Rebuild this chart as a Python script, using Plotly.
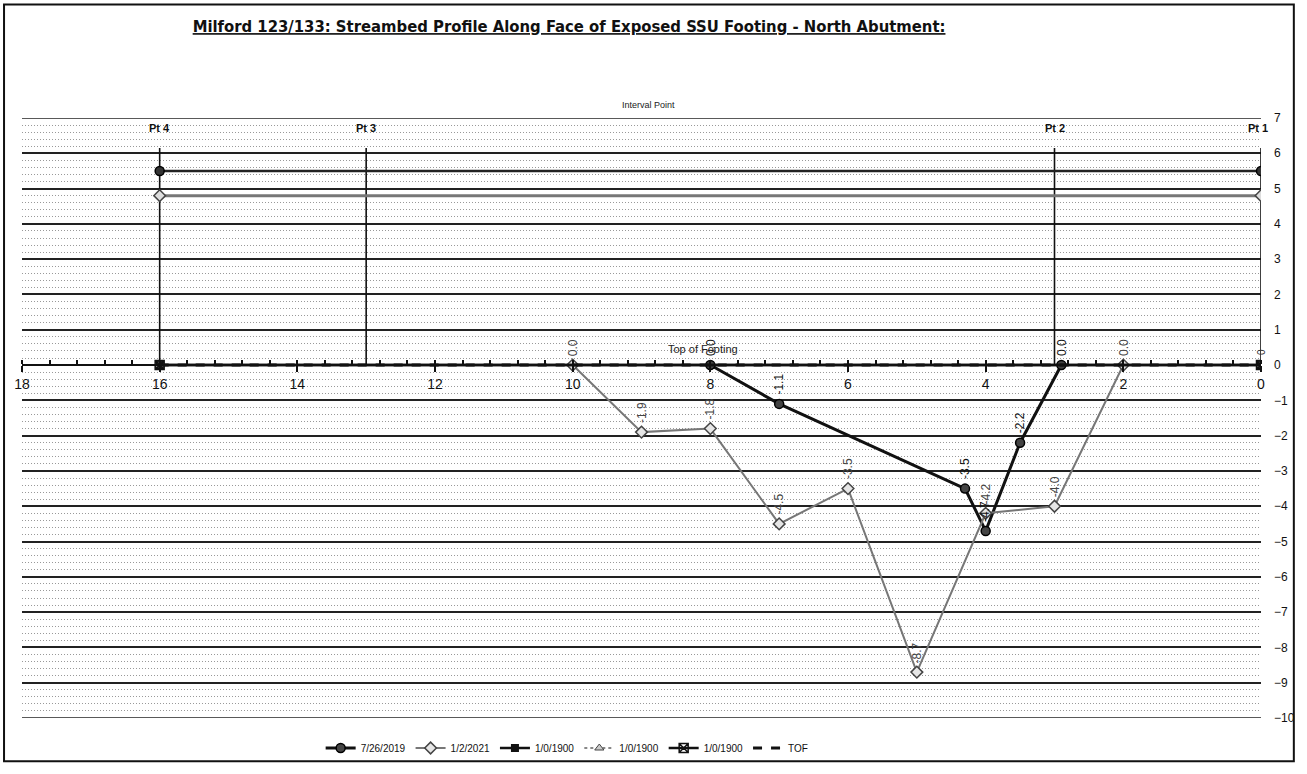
import plotly.graph_objects as go

# ---------------- data ----------------
title_text = "Milford 123/133: Streambed Profile Along Face of Exposed SSU Footing - North Abutment:"

pt_x = [16, 13, 3, 0]
pt_labels = ["Pt 4", "Pt 3", "Pt 2", "Pt 1"]
pt_top = 6.15
pt_label_y = 6.72

survey_2019_x = [8, 7, 4.3, 4.0, 3.5, 2.9]
survey_2019_y = [0.0, -1.1, -3.5, -4.7, -2.2, 0.0]

survey_2021_x = [10, 9, 8, 7, 6, 5, 4, 3, 2]
survey_2021_y = [0.0, -1.9, -1.8, -4.5, -3.5, -8.7, -4.2, -4.0, 0.0]

level_x = [16, 0]
level_2019 = 5.5
level_2021 = 4.8

tof_x = [16, 0]
tof_y = 0.0
tof_label = "Top of Footing"
tof_label_x = 8.1
tof_label_y = 0.45

x_ticks = [18, 16, 14, 12, 10, 8, 6, 4, 2, 0]
y_ticks = list(range(-10, 8))

FONT = "Liberation Sans"
TITLE_FONT = "DejaVu Sans Condensed, DejaVu Sans, Liberation Sans"

W, H = 1307, 774

fig = go.Figure()

# Pt vertical lines
for px in pt_x:
    fig.add_trace(go.Scatter(x=[px, px], y=[0, pt_top], mode="lines",
                             line=dict(color="#111", width=1.6),
                             showlegend=False, hoverinfo="skip"))

# horizontal level lines
fig.add_trace(go.Scatter(x=level_x, y=[level_2021] * len(level_x), mode="lines+markers",
                         line=dict(color="#777", width=3),
                         marker=dict(symbol="diamond", size=9, color="#ddd", line=dict(color="#444", width=1.5)),
                         showlegend=False))
fig.add_trace(go.Scatter(x=level_x, y=[level_2019] * len(level_x), mode="lines+markers",
                         line=dict(color="#222", width=2.5),
                         marker=dict(symbol="circle", size=9, color="#333", line=dict(color="#000", width=1.5)),
                         showlegend=False))

# main series
fig.add_trace(go.Scatter(x=survey_2019_x, y=survey_2019_y, mode="lines+markers", name="7/26/2019",
                         line=dict(color="#111", width=3),
                         marker=dict(symbol="circle", size=9, color="#444", line=dict(color="#000", width=1.5))))
fig.add_trace(go.Scatter(x=survey_2021_x, y=survey_2021_y, mode="lines+markers", name="1/2/2021",
                         line=dict(color="#777", width=2),
                         marker=dict(symbol="diamond", size=9, color="#e6e6e6", line=dict(color="#444", width=1.5))))

# placeholder series (sit on the footing line)
fig.add_trace(go.Scatter(x=tof_x, y=[tof_y] * 2, mode="lines+markers", name="1/0/1900",
                         line=dict(color="#111", width=2.5),
                         marker=dict(symbol="square", size=8, color="#111")))
fig.add_trace(go.Scatter(x=tof_x, y=[tof_y] * 2, mode="lines+markers", name="1/0/1900",
                         line=dict(color="#888", width=2, dash="dot"),
                         marker=dict(symbol="triangle-up", size=8, color="#ccc", line=dict(color="#444", width=1))))
fig.add_trace(go.Scatter(x=tof_x, y=[tof_y] * 2, mode="lines+markers", name="1/0/1900",
                         line=dict(color="#111", width=2.5),
                         marker=dict(symbol="square-x-open", size=9, color="#111", line=dict(width=1.5))))
fig.add_trace(go.Scatter(x=tof_x, y=[tof_y] * 2, mode="lines", name="TOF",
                         line=dict(color="#111", width=3, dash="dash")))

annotations = []
for xv, yv in zip(survey_2019_x, survey_2019_y):
    annotations.append(dict(x=xv, y=yv, xref="x", yref="y", text=f"{yv:.1f}", showarrow=False,
                            textangle=-90, yanchor="bottom", yshift=7,
                            font=dict(family=FONT, size=12, color="#111")))
for xv, yv in zip(survey_2021_x, survey_2021_y):
    annotations.append(dict(x=xv, y=yv, xref="x", yref="y", text=f"{yv:.1f}", showarrow=False,
                            textangle=-90, yanchor="bottom", yshift=7,
                            font=dict(family=FONT, size=12, color="#444")))
# small data label of the placeholder series at Pt 1
annotations.append(dict(x=tof_x[-1], y=tof_y, xref="x", yref="y", text=f"{tof_y:.0f}", showarrow=False,
                        textangle=-90, yanchor="bottom", yshift=8,
                        font=dict(family=FONT, size=10, color="#333")))
for px, lab in zip(pt_x, pt_labels):
    annotations.append(dict(x=px, y=pt_label_y, xref="x", yref="y", text=f"<b>{lab}</b>", showarrow=False,
                            xshift=-3 if px == 0 else 0,
                            font=dict(family=FONT, size=11, color="#111")))
annotations.append(dict(x=tof_label_x, y=tof_label_y, xref="x", yref="y", text=tof_label,
                        showarrow=False, font=dict(family=FONT, size=11, color="#222")))
annotations.append(dict(x=0.506, y=1.034, xref="paper", yref="paper", text="Interval Point",
                        showarrow=False, font=dict(family=FONT, size=9, color="#222")))

# gridlines at the range edges (top 7 and bottom -10)
edge_lines = [dict(type="line", xref="paper", yref="y", x0=0, x1=1, y0=v, y1=v,
                   line=dict(color="#222", width=1.5), layer="below")
              for v in (y_ticks[0], y_ticks[-1])]

fig.update_layout(
    width=W, height=H, autosize=False,
    margin=dict(l=22, r=38, t=118, b=47),
    paper_bgcolor="white", plot_bgcolor="white",
    title=dict(text=f"<u><b>{title_text}</b></u>", x=0.4354, xanchor="center", y=0.966, yanchor="middle",
               font=dict(family=TITLE_FONT, size=16.5, color="#111")),
    showlegend=True,
    legend=dict(orientation="h", x=0.44, xanchor="center", y=-0.05, yanchor="middle",
                font=dict(family=FONT, size=10, color="#111"), itemwidth=30,
                bgcolor="rgba(0,0,0,0)"),
    annotations=annotations,
    shapes=[dict(type="rect", xref="paper", yref="paper", x0=-0.0145, x1=1.0265, y0=-0.072, y1=1.189,
                 line=dict(color="#111", width=2), layer="below")] + edge_lines,
    xaxis=dict(range=[18, 0], tickvals=x_ticks, showgrid=False, zeroline=False,
               anchor="free", position=10 / 17, showline=True, linecolor="#111", linewidth=1.5,
               ticks="outside", ticklen=6, tickcolor="#111", tickwidth=1.5,
               minor=dict(dtick=0.4, ticks="inside", ticklen=4, tickcolor="#111", showgrid=False),
               tickfont=dict(family=FONT, size=14, color="#111")),
    yaxis=dict(range=[-10, 7], side="right", tickvals=y_ticks, showgrid=True, gridcolor="#222",
               gridwidth=1.5, zeroline=False, showline=False, ticks="", ticklabelstandoff=12,
               minor=dict(dtick=0.2, showgrid=True, gridcolor="#999", griddash="1px,2px", gridwidth=1),
               tickfont=dict(family=FONT, size=12, color="#111")),
)

fig.write_html("out.html", config={"displayModeBar": False, "responsive": False},
               post_script="document.body.style.margin='0px';document.body.style.overflow='hidden';")
